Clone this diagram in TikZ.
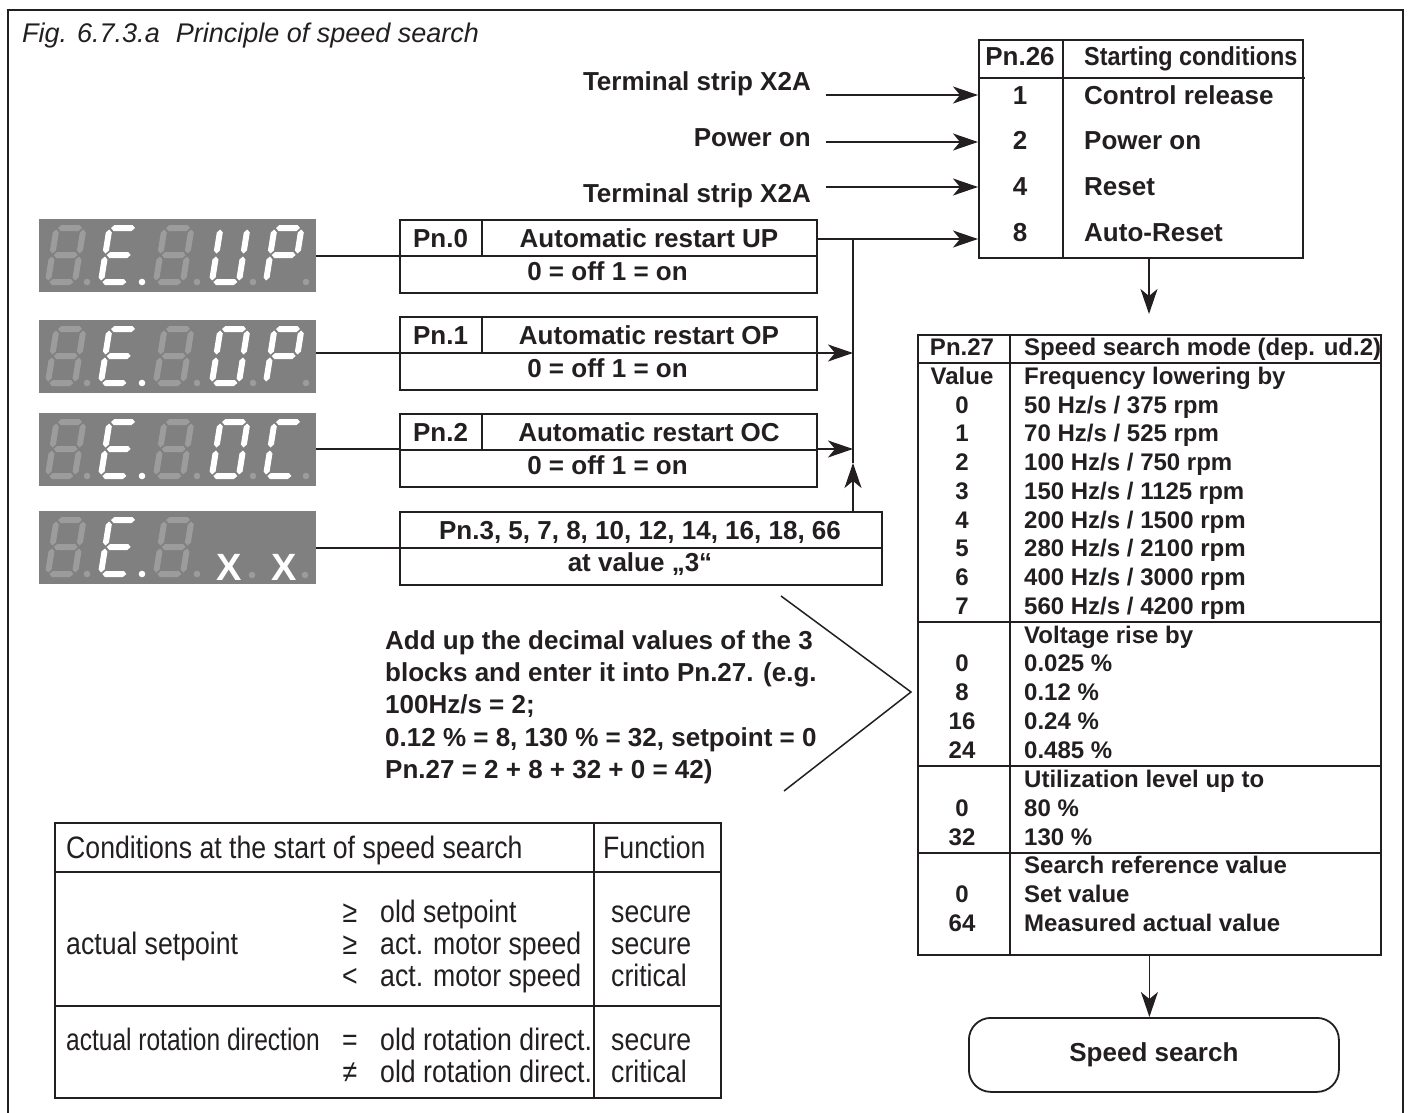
\documentclass[tikz,border=0pt]{standalone}
\usepackage{fontspec}
\usepackage{graphicx}
\setmainfont{Liberation Sans}
\newfontfamily\condfont[FakeStretch=0.86]{Liberation Sans}
\usetikzlibrary{arrows.meta}
\definecolor{dispbg}{RGB}{128,128,128}
\definecolor{dimseg}{RGB}{156,156,156}
\definecolor{ink}{RGB}{35,31,32}
\newcommand\segH[3]{\fill[segcol] (#1,#3) -- ({#1+3},{#3-3}) -- ({#2-3},{#3-3}) -- (#2,#3) -- ({#2-3},{#3+3}) -- ({#1+3},{#3+3}) -- cycle;}
\newcommand\segV[3]{\fill[segcol] (#1,#2) -- ({#1+3},{#2+3}) -- ({#1+3},{#3-3}) -- (#1,#3) -- ({#1-3},{#3-3}) -- ({#1-3},{#2+3}) -- cycle;}
\newcommand\sga{\segH{4.5}{28.5}{3}}
\newcommand\sgb{\segV{30}{4.5}{28.5}}
\newcommand\sgc{\segV{30}{31.5}{55.5}}
\newcommand\sgd{\segH{4.5}{28.5}{57}}
\newcommand\sge{\segV{3}{31.5}{55.5}}
\newcommand\sgf{\segV{3}{4.5}{28.5}}
\newcommand\sgg{\segH{4.5}{28.5}{30}}
\newcommand\sevdigit[4]{\begin{scope}[shift={(#1,#2)},xslant=0.16,segcol/.style={fill=#4}]\foreach \s in {#3}{\csname sg\s\endcsname}\end{scope}}
\newcommand\sevdot[3]{\fill[#3] (#1,#2) circle (3.3);}
\begin{document}
\begin{tikzpicture}[x=1pt,y=-1pt,
  bt/.style={font=\fontsize{26}{31}\selectfont\bfseries, inner sep=0pt, text=ink},
  st/.style={font=\fontsize{24}{29}\selectfont\bfseries, inner sep=0pt, text=ink},
  ct/.style={font=\condfont\fontsize{31}{36}\selectfont, inner sep=0pt, text=ink},
  box/.style={draw=ink, line width=1.8pt, inner sep=0pt, anchor=north west},
  rule/.style={draw=ink, line width=1.8pt},
  ln/.style={draw=ink, line width=1.5pt},
  arr/.style={ln, -{Stealth[length=25pt,width=17pt,inset=7pt]}},
  disp/.style={fill=dispbg, inner sep=0pt, anchor=north west, minimum width=277pt, minimum height=73pt}]
\useasboundingbox (0,0) rectangle (1409,1113);
% frame
\draw[ink, line width=2.5pt] (8,1113) -- (8,10) -- (1403,10) -- (1403,1113);
\node[anchor=base west, inner sep=0pt, text=ink, font=\fontsize{27}{32}\selectfont\itshape] (title) at (22,43) {Fig. 6.7.3.a\hspace{16pt}Principle of speed search};
% displays
\node[disp] (d1) at (39,219) {};
\node[disp] (d2) at (39,320) {};
\node[disp] (d3) at (39,413) {};
\node[disp] (d4) at (39,511) {};
% display 1: 8.E.8.U.P.
\sevdigit{54}{225}{a,b,c,d,e,f,g}{dimseg}
\sevdigit{107}{225}{a,d,e,f,g}{white}
\sevdigit{162}{225}{a,b,c,d,e,f,g}{dimseg}
\sevdigit{218}{225}{b,c,d,e,f}{white}
\sevdigit{272}{225}{a,b,e,f,g}{white}
\sevdot{87}{282}{dimseg}\sevdot{142}{282}{white}\sevdot{197}{282}{dimseg}\sevdot{253}{282}{dimseg}\sevdot{306}{282}{dimseg}
% display 2: 8.E.8.O.P.
\sevdigit{54}{326}{a,b,c,d,e,f,g}{dimseg}
\sevdigit{107}{326}{a,d,e,f,g}{white}
\sevdigit{162}{326}{a,b,c,d,e,f,g}{dimseg}
\sevdigit{218}{326}{a,b,c,d,e,f}{white}
\sevdigit{272}{326}{a,b,e,f,g}{white}
\sevdot{87}{383}{dimseg}\sevdot{142}{383}{white}\sevdot{197}{383}{dimseg}\sevdot{253}{383}{dimseg}\sevdot{306}{383}{dimseg}
% display 3: 8.E.8.O.C.
\sevdigit{54}{419}{a,b,c,d,e,f,g}{dimseg}
\sevdigit{107}{419}{a,d,e,f,g}{white}
\sevdigit{162}{419}{a,b,c,d,e,f,g}{dimseg}
\sevdigit{218}{419}{a,b,c,d,e,f}{white}
\sevdigit{272}{419}{a,d,e,f}{white}
\sevdot{87}{476}{dimseg}\sevdot{142}{476}{white}\sevdot{197}{476}{dimseg}\sevdot{253}{476}{dimseg}\sevdot{306}{476}{dimseg}
% display 4: 8.E.8. X . X .
\sevdigit{54}{517}{a,b,c,d,e,f,g}{dimseg}
\sevdigit{107}{517}{a,d,e,f,g}{white}
\sevdigit{162}{517}{a,b,c,d,e,f,g}{dimseg}
\sevdot{87}{574}{dimseg}\sevdot{142}{574}{white}\sevdot{197}{574}{dimseg}\sevdot{252}{575}{dimseg}\sevdot{305}{575}{dimseg}
\node[anchor=base, inner sep=0pt, text=white, font=\fontsize{38}{40}\selectfont\bfseries] (xa) at (229,580) {X};
\node[anchor=base, inner sep=0pt, text=white, font=\fontsize{38}{40}\selectfont\bfseries] (xb) at (284,580) {X};
% input labels
\node[bt, anchor=base east] (in1) at (811,91) {Terminal strip X2A};
\node[bt, anchor=base east] (in2) at (811,147) {Power on};
\node[bt, anchor=base east] (in3) at (811,203) {Terminal strip X2A};
% Pn.26 table
\node[box, minimum width=324pt, minimum height=218pt] (pn26) at (978,39) {};
\draw[rule] (978,78) -- (1305,78);
\draw[rule] (1063,39) -- (1063,257);
\node[bt, anchor=base] (h26a) at (1020,66) {Pn.26};
\node[bt, anchor=base west] (h26b) at (1084,66) {\scalebox{0.9}[1]{Starting conditions}};
\foreach \n/\t/\y [count=\i] in {1/Control release/105, 2/Power on/150, 4/Reset/196, 8/Auto-Reset/241}{
  \node[bt, anchor=base] (cn\i) at (1020,\y) {\n};
  \node[bt, anchor=base west] (cx\i) at (1084,\y) {\t};
}
% Pn.0 .. Pn.2 boxes
\foreach \Y/\n/\t in {219/0/UP, 316/1/OP, 413/2/OC}{
  \node[box, minimum width=417pt, minimum height=73pt] (pn\n) at (399,\Y) {};
  \draw[rule] (399,\Y+37) -- (816,\Y+37);
  \draw[rule] (482,\Y) -- (482,\Y+37);
  \node[bt, anchor=base] (pl\n) at (440.5,\Y+28) {Pn.\n};
  \node[bt, anchor=base] (pt\n) at (649,\Y+28) {Automatic restart \t};
  \node[bt, anchor=base] (pv\n) at (607.5,\Y+61) {0 = off 1 = on};
}
\node[box, minimum width=482pt, minimum height=73pt] (pn3) at (399,511) {};
\draw[rule] (399,548) -- (881,548);
\node[bt, anchor=base] (p3a) at (640,539) {Pn.3, 5, 7, 8, 10, 12, 14, 16, 18, 66};
\node[bt, anchor=base] (p3b) at (640,571) {at value „3“};
% connectors from displays
\draw[ln] (d1.east |- 0,256) -- (pn0.west |- 0,256);
\draw[ln] (d2.east |- 0,353) -- (pn1.west |- 0,353);
\draw[ln] (d3.east |- 0,449) -- (pn2.west |- 0,449);
\draw[ln] (d4.east |- 0,548) -- (pn3.west |- 0,548);
% bus
\coordinate (j0) at (853,239);
\coordinate (j1) at (853,353);
\coordinate (j2) at (853,449);
\coordinate (jup) at (853,463);
\draw[arr] (pn0.east |- j0) -- (pn26.west |- j0);
\draw[arr] (pn1.east |- j1) -- (j1);
\draw[arr] (pn2.east |- j2) -- (j2);
\draw[arr] (pn3.north -| j0) -- (jup);
\draw[ln] (jup) -- (j0);
% inputs
\coordinate (s1) at (826,95);
\coordinate (s2) at (826,142);
\coordinate (s3) at (826,187);
\draw[arr] (s1) -- (pn26.west |- s1);
\draw[arr] (s2) -- (pn26.west |- s2);
\draw[arr] (s3) -- (pn26.west |- s3);
% Pn.27 table
\node[box, minimum width=463pt, minimum height=620pt] (pn27) at (917,334) {};
\draw[rule] (917,363) -- (1380,363);
\draw[rule] (1010,334) -- (1010,954);
\draw[ink, line width=2.6pt] (917,622) -- (1380,622);
\draw[rule] (917,766) -- (1380,766);
\draw[rule] (917,853) -- (1380,853);
\node[st, anchor=base] (q0) at (962,355) {Pn.27};
\node[st, anchor=base west] (q1) at (1024,355) {Speed search mode (dep. ud.2)};
\node[st, anchor=base] (q2) at (962,384) {Value};
\node[st, anchor=base west] (q3) at (1024,384) {Frequency lowering by};
\node[st, anchor=base west] (q4) at (1024,643) {Voltage rise by};
\node[st, anchor=base west] (q5) at (1024,787) {Utilization level up to};
\node[st, anchor=base west] (q6) at (1024,873) {Search reference value};
\foreach \v/\t/\y [count=\i] in {
  0/{50 Hz/s / 375 rpm}/413, 1/{70 Hz/s / 525 rpm}/441, 2/{100 Hz/s / 750 rpm}/470,
  3/{150 Hz/s / 1125 rpm}/499, 4/{200 Hz/s / 1500 rpm}/528, 5/{280 Hz/s / 2100 rpm}/556,
  6/{400 Hz/s / 3000 rpm}/585, 7/{560 Hz/s / 4200 rpm}/614,
  0/{0.025 \%}/671, 8/{0.12 \%}/700, 16/{0.24 \%}/729, 24/{0.485 \%}/758,
  0/{80 \%}/816, 32/{130 \%}/845,
  0/{Set value}/902, 64/{Measured actual value}/931}{
  \node[st, anchor=base] (rv\i) at (962,\y) {\v};
  \node[st, anchor=base west] (rt\i) at (1024,\y) {\t};
}
% flow down
\coordinate (t27) at (1149,314);
\draw[arr] (pn26.south -| t27) -- (t27);
\node[box, bt, rounded corners=22pt, minimum width=370pt, minimum height=74pt] (ss) at (968,1017) {Speed search};
\draw[arr] (pn27.south) -- (pn27.south |- ss.north);
% note
\foreach \t/\y [count=\i] in {
  {Add up the decimal values of the 3}/649,
  {blocks and enter it into Pn.27. (e.g.}/681,
  {100Hz/s = 2;}/713,
  {0.12 \% = 8, 130 \% = 32, setpoint = 0}/746,
  {Pn.27 = 2 + 8 + 32 + 0 = 42)}/778}{
  \node[bt, anchor=base west] (nt\i) at (385,\y) {\t};
}
\draw[ln] (781,596) -- (911,692) -- (784,791);
% conditions table
\node[box, minimum width=666pt, minimum height=275pt] (cond) at (54,822) {};
\draw[rule] (54,872) -- (720,872);
\draw[rule] (54,1006) -- (720,1006);
\draw[rule] (594,822) -- (594,1097);
\node[ct, anchor=base west] (c0) at (66,858) {Conditions at the start of speed search};
\node[ct, anchor=base west] (c1) at (603,858) {Function};
\node[ct, anchor=base west] (c2) at (66,954) {actual setpoint};
\node[ct, anchor=base] (c3) at (350,922) {≥};
\node[ct, anchor=base] (c4) at (350,954) {≥};
\node[ct, anchor=base] (c5) at (350,986) {<};
\node[ct, anchor=base west] (c6) at (380,922) {old setpoint};
\node[ct, anchor=base west] (c7) at (380,954) {act. motor speed};
\node[ct, anchor=base west] (c8) at (380,986) {act. motor speed};
\node[ct, anchor=base west] (c9) at (611,922) {secure};
\node[ct, anchor=base west] (c10) at (611,954) {secure};
\node[ct, anchor=base west] (c11) at (611,986) {critical};
\node[ct, anchor=base west] (c12) at (66,1050) {\scalebox{0.92}[1]{actual rotation direction}};
\node[ct, anchor=base] (c13) at (350,1050) {=};
\node[ct, anchor=base] (c14) at (350,1082) {≠};
\node[ct, anchor=base west] (c15) at (380,1050) {old rotation direct.};
\node[ct, anchor=base west] (c16) at (380,1082) {old rotation direct.};
\node[ct, anchor=base west] (c17) at (611,1050) {secure};
\node[ct, anchor=base west] (c18) at (611,1082) {critical};
\end{tikzpicture}
\end{document}
